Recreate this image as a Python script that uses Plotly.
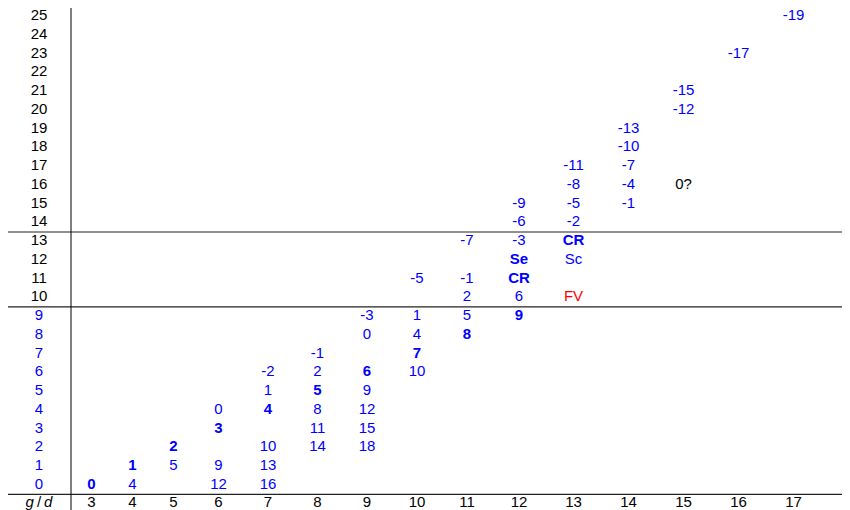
import plotly.graph_objects as go

# ---- data ----
d_values = [3, 4, 5, 6, 7, 8, 9, 10, 11, 12, 13, 14, 15, 16, 17]
g_values = list(range(26))
g_blue_max = 9  # rows 0..9 labelled in blue

bold_d = [3, 4, 5, 6, 7, 8, 9, 10, 11, 12, 12, 12, 13]
bold_g = [0, 1, 2, 3, 4, 5, 6, 7, 8, 9, 11, 12, 13]
bold_text = ["0", "1", "2", "3", "4", "5", "6", "7", "8", "9", "CR", "Se", "CR"]

plain_d = [4, 5,
           6, 6, 6,
           7, 7, 7, 7, 7,
           8, 8, 8, 8, 8,
           9, 9, 9, 9, 9, 9,
           10, 10, 10, 10,
           11, 11, 11, 11,
           12, 12, 12, 12,
           13, 13, 13, 13, 13,
           14, 14, 14, 14, 14,
           15, 15,
           16,
           17]
plain_g = [0, 1,
           4, 1, 0,
           6, 5, 2, 1, 0,
           7, 6, 4, 3, 2,
           9, 8, 5, 4, 3, 2,
           11, 9, 8, 6,
           13, 11, 10, 9,
           15, 14, 13, 10,
           17, 16, 15, 14, 12,
           19, 18, 17, 16, 15,
           21, 20,
           23,
           25]
plain_text = ["4", "5",
              "0", "9", "12",
              "-2", "1", "10", "13", "16",
              "-1", "2", "8", "11", "14",
              "-3", "0", "9", "12", "15", "18",
              "-5", "1", "4", "10",
              "-7", "-1", "2", "5",
              "-9", "-6", "-3", "6",
              "-11", "-8", "-5", "-2", "Sc",
              "-13", "-10", "-7", "-4", "-1",
              "-15", "-12",
              "-17",
              "-19"]

red_d = [13]
red_g = [10]
red_text = ["FV"]

black_d = [15]
black_g = [16]
black_text = ["0?"]

# ---- layout constants (styling / geometry) ----
W, H = 850, 510
PAGE_OFFSET = 8          # default body margin of the html page
FONT = "Liberation Sans, Arial, Helvetica, sans-serif"
FS = 15
BLUE = "#0000FF"
RED = "#FF0000"
LABEL_X = 39
DIVIDER_X = 71
COL_WIDTHS = [41, 41, 41, 49, 50, 49, 50, 50, 50, 54, 55, 55, 55, 55, 55]
ROW0_PX, ROW_STEP = 485.0, 18.74   # screen pixel of row 0 anchor, row pitch

col_center = {}
edge = DIVIDER_X
for d, w in zip(d_values, COL_WIDTHS):
    col_center[d] = edge + w / 2
    edge += w

def X(ds):
    return [col_center[d] for d in ds]

row0_fig = ROW0_PX - PAGE_OFFSET
y_top = row0_fig / ROW_STEP
y_bot = -(H - row0_fig) / ROW_STEP

fig = go.Figure()

def text_trace(x, y, text, color):
    fig.add_trace(go.Scatter(
        x=x, y=y, text=text, mode="text",
        textposition="middle center",
        textfont=dict(family=FONT, size=FS, color=color),
        hoverinfo="skip", showlegend=False, cliponaxis=False))

# row labels
text_trace([LABEL_X] * len(g_values), g_values, [str(g) for g in g_values],
           [BLUE if g <= g_blue_max else "black" for g in g_values])
# header row
text_trace([LABEL_X], [-1], ["<i>g</i>\u2009/\u2009<i>d</i>"], "black")
text_trace(X(d_values), [-1] * len(d_values), [str(d) for d in d_values], "black")
# cells
text_trace(X(plain_d), plain_g, plain_text, BLUE)
text_trace(X(bold_d), bold_g, ["<b>%s</b>" % t for t in bold_text], BLUE)
text_trace(X(red_d), red_g, red_text, RED)
text_trace(X(black_d), black_g, black_text, "black")

# table rules
line_style = dict(color="#222222", width=1.2)
for yb in [13.5, 9.5, -0.5]:
    fig.add_shape(type="line", x0=7, x1=W + PAGE_OFFSET + 2, y0=yb, y1=yb,
                  xref="x", yref="y", line=line_style)
fig.add_shape(type="line", x0=DIVIDER_X, x1=DIVIDER_X, y0=y_bot, y1=y_top,
              xref="x", yref="y", line=dict(color="black", width=1))

fig.update_layout(
    width=W, height=H,
    margin=dict(l=0, r=0, t=0, b=0),
    paper_bgcolor="white", plot_bgcolor="white",
    xaxis=dict(range=[PAGE_OFFSET, W + PAGE_OFFSET], visible=False, fixedrange=True),
    yaxis=dict(range=[y_bot, y_top], visible=False, fixedrange=True),
)

fig.write_html("out.html")
